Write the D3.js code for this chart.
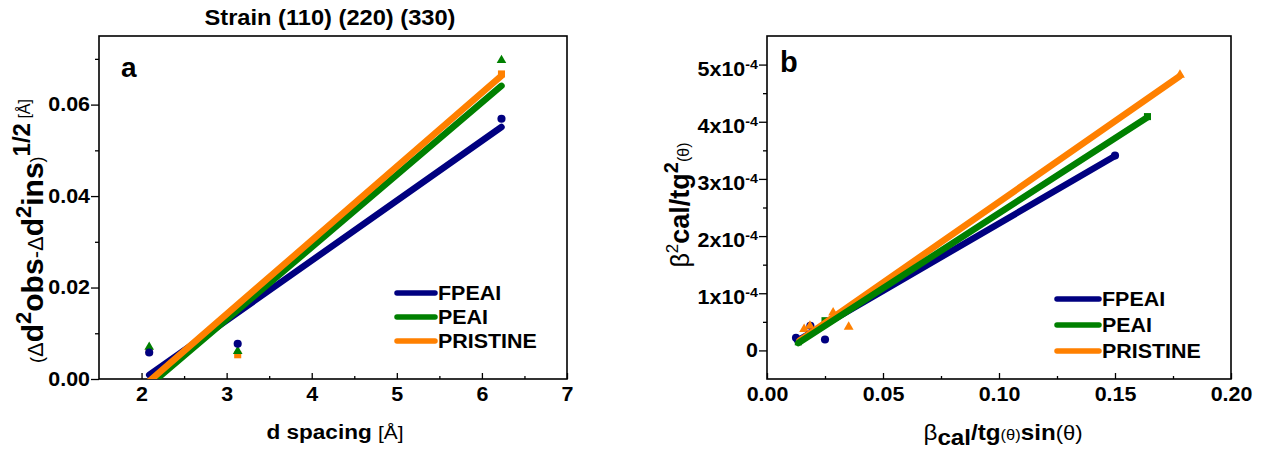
<!DOCTYPE html>
<html><head><meta charset="utf-8">
<script src="https://cdn.jsdelivr.net/npm/d3@7"></script>
<style>
body{margin:0;background:#fff;}
svg{display:block;font-family:"Liberation Sans", Arial, sans-serif;}
</style></head><body>
<svg id="c" width="1267" height="452"></svg>
<script>
// ---------- data ----------
const seriesNames = ["FPEAI", "PEAI", "PRISTINE"];
const seriesColors = ["#000080", "#008000", "#ff8000"];

// panel a : strain (110) (220) (330)
const dSpacing = [2.09, 3.13, 6.23];
const aFPEAI = [0.0058, 0.0077, 0.0569];
const aPEAI = [0.0070, 0.0061, 0.0697];
const aPRISTINE = [0.0060, 0.0053, 0.0667];
const aFitX = [2.09, 6.23];
const aFitFPEAI = [0.0009, 0.0551];
const aFitPEAI = [-0.0014, 0.0641];
const aFitPRISTINE = [-0.0005, 0.0663];
const aXTicks = [2, 3, 4, 5, 6, 7];
const aXMinor = [2.5, 3.5, 4.5, 5.5, 6.5];
const aYTicks = [0, 0.02, 0.04, 0.06];
const aYMinor = [0.01, 0.03, 0.05, 0.07];

// panel b
const bFPEAIx = [0.0125, 0.0187, 0.0250, 0.1500];
const bFPEAIy = [0.22e-4, 0.43e-4, 0.19e-4, 3.41e-4];
const bPEAIx = [0.0135, 0.0250, 0.1640];
const bPEAIy = [0.15e-4, 0.52e-4, 4.09e-4];
const bPRISTINEx = [0.0160, 0.0185, 0.0285, 0.0352, 0.1780];
const bPRISTINEy = [0.37e-4, 0.43e-4, 0.66e-4, 0.41e-4, 4.82e-4];
const bFitFPEAIx = [0.0130, 0.1500];
const bFitFPEAIy = [0.17e-4, 3.40e-4];
const bFitPEAIx = [0.0135, 0.1640];
const bFitPEAIy = [0.13e-4, 4.08e-4];
const bFitPRISTINEx = [0.0140, 0.1780];
const bFitPRISTINEy = [0.17e-4, 4.80e-4];
const bXTicks = [0, 0.05, 0.10, 0.15, 0.20];
const bXMinor = [0.025, 0.075, 0.125, 0.175];
const bYTicks = [0, 1e-4, 2e-4, 3e-4, 4e-4, 5e-4];
const bYMinor = [0.5e-4, 1.5e-4, 2.5e-4, 3.5e-4, 4.5e-4];

// ---------- drawing ----------
const SX = 1.1;
const svg = d3.select("#c");

function stretchAxisText(g) {
  g.selectAll("text").each(function () {
    const x = +(this.getAttribute("x") || 0);
    this.setAttribute("transform", `translate(${x},0) scale(${SX},1) translate(${-x},0)`);
  });
}
function rich(textSel, parts) {
  let cur = 0;
  parts.forEach(p => {
    const sh = p.shift || 0;
    textSel.append("tspan")
      .attr("dy", sh - cur)
      .attr("font-size", p.size)
      .attr("font-weight", p.bold ? "bold" : "normal")
      .text(p.t);
    cur = sh;
  });
}
function stretchedText(parent, x, y, anchor, parts) {
  const g = parent.append("g").attr("transform", `translate(${x},${y}) scale(${SX},1)`);
  const t = g.append("text").attr("text-anchor", anchor).attr("fill", "#000");
  rich(t, parts);
  return t;
}

function panel(opt) {
  const g = svg.append("g");
  const x = d3.scaleLinear().domain(opt.xDomain).range([opt.left, opt.right]);
  const y = d3.scaleLinear().domain(opt.yDomain).range([opt.bottom, opt.top]);
  const clipId = "clip" + opt.id;
  svg.append("defs").append("clipPath").attr("id", clipId)
    .append("rect").attr("x", opt.left).attr("y", opt.top)
    .attr("width", opt.right - opt.left).attr("height", opt.bottom - opt.top);

  // axes
  const xa = g.append("g").attr("transform", `translate(0,${opt.bottom})`)
    .call(d3.axisBottom(x).tickValues(opt.xTicks).tickFormat(opt.xFmt)
      .tickSizeInner(-6).tickSizeOuter(0).tickPadding(8));
  xa.select(".domain").remove();
  xa.selectAll("line").attr("stroke", "#000").attr("stroke-width", 1.3);
  xa.selectAll("text").attr("font-size", 19.5).attr("font-weight", "bold").attr("fill", "#000");
  stretchAxisText(xa);
  const xm = g.append("g").attr("transform", `translate(0,${opt.bottom})`)
    .call(d3.axisBottom(x).tickValues(opt.xMinor).tickFormat("").tickSizeInner(-3).tickSizeOuter(0));
  xm.select(".domain").remove();
  xm.selectAll("line").attr("stroke", "#000").attr("stroke-width", 1.3);

  const ya = g.append("g").attr("transform", `translate(${opt.left},0)`)
    .call(d3.axisLeft(y).tickValues(opt.yTicks).tickFormat(opt.yFmt)
      .tickSizeInner(8).tickSizeOuter(0).tickPadding(1));
  ya.select(".domain").remove();
  ya.selectAll("line").attr("stroke", "#000").attr("stroke-width", 1.3);
  ya.selectAll("text").attr("font-size", 19.5).attr("font-weight", "bold").attr("fill", "#000");
  if (opt.yRich) opt.yRich(ya);
  stretchAxisText(ya);
  const ym = g.append("g").attr("transform", `translate(${opt.left},0)`)
    .call(d3.axisLeft(y).tickValues(opt.yMinor).tickFormat("").tickSizeInner(4).tickSizeOuter(0));
  ym.select(".domain").remove();
  ym.selectAll("line").attr("stroke", "#000").attr("stroke-width", 1.3);

  // frame
  g.append("rect").attr("x", opt.left).attr("y", opt.top)
    .attr("width", opt.right - opt.left).attr("height", opt.bottom - opt.top)
    .attr("fill", "none").attr("stroke", "#000").attr("stroke-width", 1.6);

  // markers
  const pg = g.append("g").attr("clip-path", `url(#${clipId})`);
  opt.markerOrder.forEach(i => {
    const s = opt.series[i];
    const sym = d3.symbol().type(s.shape).size(s.size);
    pg.selectAll(null).data(d3.zip(s.x, s.y)).join("path")
      .attr("d", sym)
      .attr("transform", d => `translate(${x(d[0])},${y(d[1])})`)
      .attr("fill", seriesColors[i]);
  });
  // fit lines
  const line = d3.line().x(d => x(d[0])).y(d => y(d[1]));
  opt.lineOrder.forEach(i => {
    const s = opt.series[i];
    pg.append("path").datum(d3.zip(s.fx, s.fy))
      .attr("d", line).attr("fill", "none")
      .attr("stroke", seriesColors[i]).attr("stroke-width", 6.5)
      .attr("stroke-linecap", "round");
  });
  // legend
  seriesNames.forEach((n, i) => {
    const ly = opt.legY + i * opt.legDy;
    g.append("line").attr("x1", opt.legX).attr("x2", opt.legX + opt.legLen)
      .attr("y1", ly).attr("y2", ly).attr("stroke", seriesColors[i])
      .attr("stroke-width", 5.5).attr("stroke-linecap", "round");
    stretchedText(g, opt.legX + opt.legLen + 3, ly + 7, "start",
      [{ t: n, size: 19.5, bold: true }]);
  });
  return { g, x, y };
}

// panel a
const pa = panel({
  id: "a", left: 99, right: 567, top: 36, bottom: 379,
  xDomain: [1.5, 7], yDomain: [0, 0.075],
  xTicks: aXTicks, xMinor: aXMinor, yTicks: aYTicks, yMinor: aYMinor,
  xFmt: d3.format("d"), yFmt: d3.format(".2f"),
  series: [
    { x: dSpacing, y: aFPEAI, fx: aFitX, fy: aFitFPEAI, shape: d3.symbolCircle, size: 52 },
    { x: dSpacing, y: aPEAI, fx: aFitX, fy: aFitPEAI, shape: d3.symbolTriangle, size: 40 },
    { x: dSpacing, y: aPRISTINE, fx: aFitX, fy: aFitPRISTINE, shape: d3.symbolSquare, size: 50 }
  ],
  markerOrder: [2, 1, 0], lineOrder: [0, 1, 2],
  legX: 397, legLen: 38, legY: 293, legDy: 24
});

// panel b
const pb = panel({
  id: "b", left: 767, right: 1231, top: 36, bottom: 379,
  xDomain: [0, 0.2], yDomain: [-0.5e-4, 5.5e-4],
  xTicks: bXTicks, xMinor: bXMinor, yTicks: bYTicks, yMinor: bYMinor,
  xFmt: d3.format(".2f"), yFmt: d => d === 0 ? "0" : String(Math.round(d * 1e4)),
  yRich: (ya) => {
    ya.selectAll("text").each(function (d) {
      if (d === 0) return;
      const t = d3.select(this);
      const m = t.text();
      t.text("");
      t.append("tspan").text(m + "x10");
      t.append("tspan").attr("font-size", 13).attr("dy", -7).text("-4");
      t.attr("dy", "0.55em");
    });
  },
  series: [
    { x: bFPEAIx, y: bFPEAIy, fx: bFitFPEAIx, fy: bFitFPEAIy, shape: d3.symbolCircle, size: 52 },
    { x: bPEAIx, y: bPEAIy, fx: bFitPEAIx, fy: bFitPEAIy, shape: d3.symbolSquare, size: 50 },
    { x: bPRISTINEx, y: bPRISTINEy, fx: bFitPRISTINEx, fy: bFitPRISTINEy, shape: d3.symbolTriangle, size: 42 }
  ],
  markerOrder: [0, 1, 2], lineOrder: [0, 2, 1],
  legX: 1057, legLen: 42, legY: 299, legDy: 26
});

// title & panel letters
stretchedText(svg, 330, 25, "middle", [{ t: "Strain (110) (220) (330)", size: 21.5, bold: true }]);
svg.append("text").attr("x", 121).attr("y", 77).attr("font-size", 28).attr("font-weight", "bold").text("a");
svg.append("text").attr("x", 780).attr("y", 72).attr("font-size", 29).attr("font-weight", "bold").text("b");

// x labels
stretchedText(svg, 335, 439, "middle", [
  { t: "d spacing ", size: 20.5, bold: true },
  { t: "[Å]", size: 19, bold: false }
]);
stretchedText(svg, 1003, 440, "middle", [
  { t: "β", size: 22 },
  { t: "cal", size: 22, bold: true, shift: 5 },
  { t: "/tg", size: 22, bold: true, shift: 0 },
  { t: "(θ)", size: 15 },
  { t: "sin", size: 22, bold: true },
  { t: "(θ)", size: 20 }
]);

// y label a
const yla = svg.append("text").attr("transform", "translate(42.5,231) rotate(-90)")
  .attr("text-anchor", "middle").attr("fill", "#000");
rich(yla, [
  { t: "(", size: 18 },
  { t: "Δ", size: 22 },
  { t: "d", size: 30, bold: true },
  { t: "2", size: 22, bold: true, shift: -12 },
  { t: "obs", size: 30, bold: true, shift: 0 },
  { t: "-", size: 22 },
  { t: "Δ", size: 22 },
  { t: "d", size: 30, bold: true },
  { t: "2", size: 22, bold: true, shift: -12 },
  { t: "ins", size: 30, bold: true, shift: 0 },
  { t: ")", size: 18 },
  { t: "1/2", size: 24, bold: true, shift: -13 },
  { t: " [Å]", size: 16, shift: -13 }
]);

// y label b
const ylb = svg.append("text").attr("transform", "translate(689,205) rotate(-90)")
  .attr("text-anchor", "middle").attr("fill", "#000");
rich(ylb, [
  { t: "β", size: 25 },
  { t: "2", size: 17, shift: -11 },
  { t: "cal/tg", size: 27, bold: true, shift: 0 },
  { t: "2", size: 20, bold: true, shift: -11 },
  { t: "(θ)", size: 16, shift: 0 }
]);
</script>
</body></html>
